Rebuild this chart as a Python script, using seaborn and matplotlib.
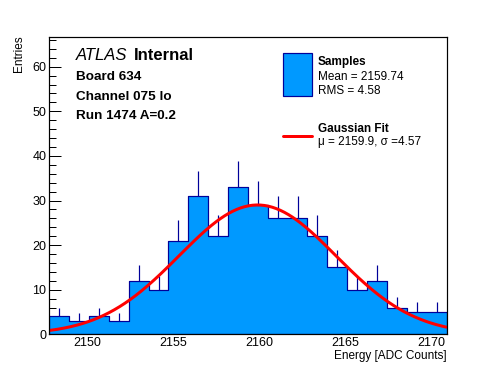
import numpy as np
import pandas as pd
import seaborn as sns
import matplotlib
matplotlib.use("Agg")
import matplotlib.pyplot as plt
from matplotlib.patches import Rectangle
from matplotlib.lines import Line2D
from matplotlib.ticker import MultipleLocator

# ---- data ----
x_min = 2147.78
x_max = 2170.9
n_bins = 20
counts = [4, 3, 4, 3, 12, 10, 21, 31, 22, 33, 29, 26, 26, 22, 15, 10, 12, 6, 5, 5]
fit_mu = 2159.9
fit_sigma = 4.57
fit_amp = 29.0
sample_mean = 2159.74
sample_rms = 4.58

edges = np.linspace(x_min, x_max, n_bins + 1)
centers = 0.5 * (edges[:-1] + edges[1:])
df = pd.DataFrame({"energy": centers, "count": np.asarray(counts, dtype=float)})

xs = np.linspace(x_min, x_max, 300)
fit_df = pd.DataFrame({"energy": xs,
                       "fit": fit_amp * np.exp(-0.5 * ((xs - fit_mu) / fit_sigma) ** 2)})

sns.set_style("ticks")
plt.rcParams["font.family"] = ["Liberation Sans", "DejaVu Sans"]
plt.rcParams["text.color"] = "black"
plt.rcParams["axes.labelcolor"] = "black"
plt.rcParams["xtick.color"] = "black"
plt.rcParams["ytick.color"] = "black"

fill_c = "#0099FF"
edge_c = "#000099"
PX = 72.0 / 100.0  # points per pixel

fig = plt.figure(figsize=(4.96, 3.72), dpi=100)
L, R, T, B = 49.3, 446.5, 37.3, 334.3
ax = fig.add_axes([L / 496, 1 - B / 372, (R - L) / 496, (B - T) / 372])

sns.histplot(data=df, x="energy", weights="count", bins=[float(e) for e in edges],
             element="step", fill=True, color=fill_c, edgecolor=edge_c, alpha=1.0,
             linewidth=1.2 * PX, ax=ax)
ax.vlines(df["energy"], df["count"], df["count"] + np.sqrt(df["count"]),
          color=edge_c, linewidth=1.2 * PX)
sns.lineplot(data=fit_df, x="energy", y="fit", color="red", linewidth=3 * PX, ax=ax)

ax.set_xlim(x_min, x_max)
ax.set_ylim(0, (B - T) / 4.46)
ax.xaxis.set_major_locator(MultipleLocator(5))
ax.xaxis.set_minor_locator(MultipleLocator(1))
ax.yaxis.set_major_locator(MultipleLocator(10))
ax.yaxis.set_minor_locator(MultipleLocator(2))
ax.tick_params(which="both", direction="in", top=False, right=False, labelsize=9,
               width=1 * PX, color="black", labelcolor="black")
ax.tick_params(axis="y", which="major", length=12 * PX, pad=3 * PX)
ax.tick_params(axis="y", which="minor", length=6.5 * PX)
ax.tick_params(axis="x", which="major", length=10 * PX, pad=3 * PX)
ax.tick_params(axis="x", which="minor", length=5 * PX)
for s in ax.spines.values():
    s.set_visible(True)
    s.set_linewidth(1.2 * PX)
    s.set_color("black")

ax.set_xlabel("")
ax.set_ylabel("")


def fx(px):
    return px / 496.0


def fy(py):
    return 1 - py / 372.0


fig.text(fx(446.5), fy(355.7), "Energy [ADC Counts]", fontsize=8.5, ha="right", va="center")
fig.text(fx(19), fy(35), "Entries", fontsize=8.5, rotation=90, ha="center", va="top")

# ATLAS label
t1 = fig.text(fx(75.5), fy(55.5), "ATLAS", fontsize=12, style="italic", va="center",
              ha="left")
fig.canvas.draw()
bb = t1.get_window_extent()
fig.text(bb.x1 / 496 + fx(6.5), fy(55.5), "Internal", fontsize=12, weight="bold",
         va="center", ha="left")
for yy, t in [(77.5, "Board 634"), (97.3, "Channel 075 lo"), (116.3, "Run 1474 A=0.2")]:
    fig.text(fx(75.5), fy(yy), t, fontsize=9.7, weight="bold", va="center", ha="left")

# legend (manual)
fig.patches.append(Rectangle((fx(283.3), fy(95.5)), fx(311.5) - fx(283.3),
                             fy(53.3) - fy(95.5), transform=fig.transFigure,
                             facecolor=fill_c, edgecolor=edge_c, linewidth=1.2 * PX))
fig.lines.append(Line2D([fx(283), fx(311.5)], [fy(135.5), fy(135.5)],
                        transform=fig.transFigure, color="red", linewidth=3 * PX))
fig.text(fx(317.7), fy(61.7), "Samples", fontsize=8.5, weight="bold", va="center")
fig.text(fx(317.7), fy(77.3), f"Mean = {sample_mean:.2f}", fontsize=8.5, va="center")
fig.text(fx(317.7), fy(90.7), f"RMS = {sample_rms:.2f}", fontsize=8.5, va="center")
fig.text(fx(317.7), fy(129), "Gaussian Fit", fontsize=8.5, weight="bold", va="center")
fig.text(fx(317.7), fy(142.3), f"\u03bc = {fit_mu:.1f}, \u03c3 ={fit_sigma:.2f}",
         fontsize=8.5, va="center")

fig.savefig("out.png", dpi=100)
